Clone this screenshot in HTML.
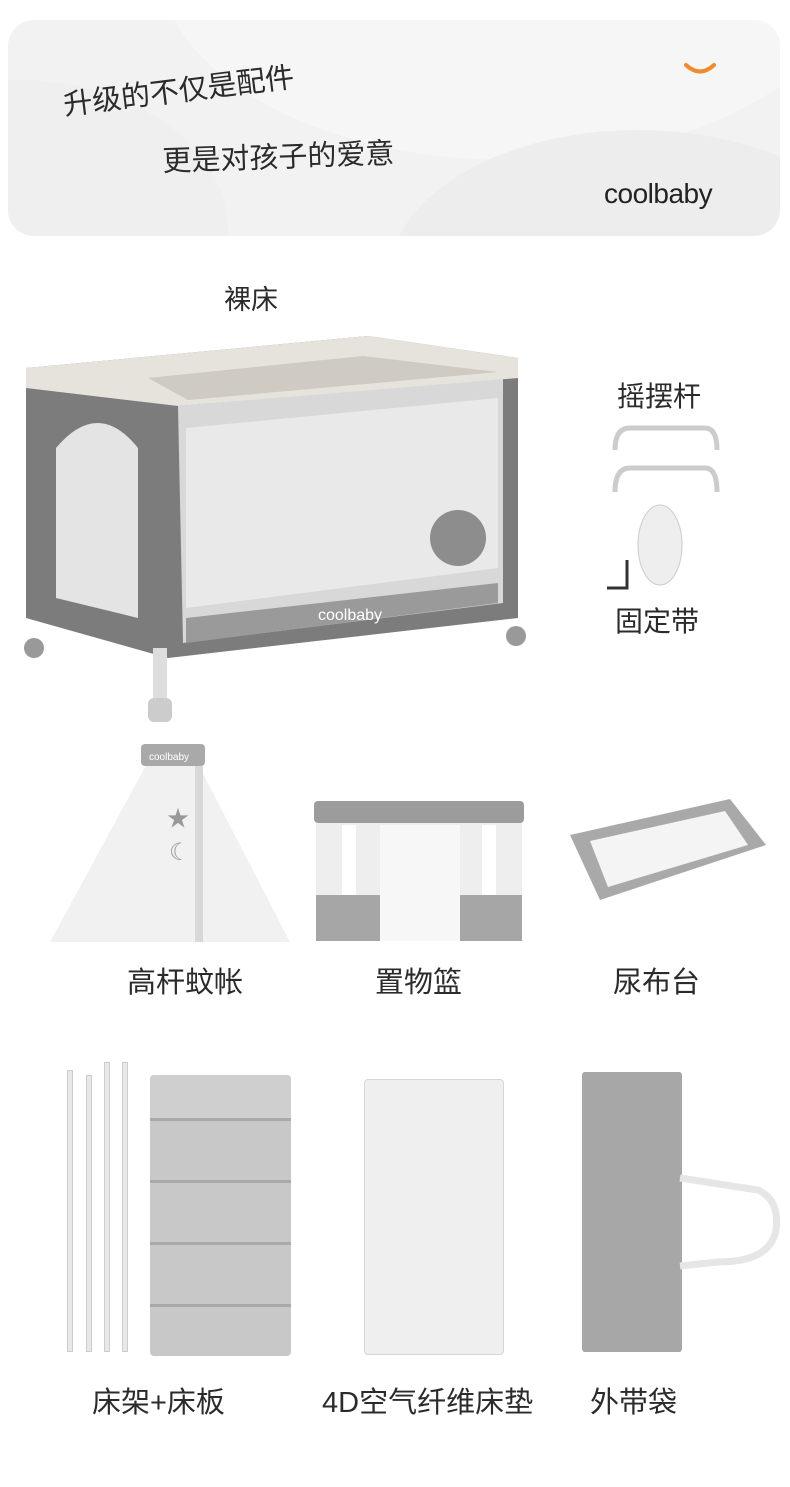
<!DOCTYPE html>
<html><head><meta charset="utf-8">
<style>
*{margin:0;padding:0;box-sizing:border-box}
body{width:790px;height:1487px;background:#fff;position:relative;overflow:hidden;font-family:"Liberation Sans","Noto Sans CJK SC",sans-serif;color:#2a2a2a}
.a{position:absolute}
.lbl{position:absolute;font-size:29px;color:#2b2b2b;white-space:nowrap;line-height:1}
</style></head><body>
<div class="a" style="left:8px;top:20px;width:772px;height:216px;border-radius:26px;background:#f2f2f2;overflow:hidden">
  <div class="a" style="left:150px;top:-260px;width:700px;height:400px;border-radius:50%;background:#f6f6f6"></div>
  <div class="a" style="left:380px;top:110px;width:500px;height:300px;border-radius:50%;background:#ededed"></div>
  <div class="a" style="left:-200px;top:60px;width:420px;height:300px;border-radius:50%;background:#efefef"></div>
</div>
<div class="lbl" style="left:62px;top:92px;font-size:29px;transform:rotate(-7deg);transform-origin:left top">升级的不仅是配件</div>
<div class="lbl" style="left:162px;top:148px;font-size:29px;transform:rotate(-2deg);transform-origin:left top">更是对孩子的爱意</div>
<svg class="a" style="left:683px;top:60px" width="34" height="16"><path d="M3 5 Q17 18 31 5" stroke="#f08a2c" stroke-width="4" fill="none" stroke-linecap="round"/></svg>
<div class="lbl" style="left:604px;top:180px;font-size:28px;color:#222;letter-spacing:-0.5px">coolbaby</div>

<div class="lbl" style="left:224px;top:287px;font-size:27px">裸床</div>
<svg class="a" style="left:18px;top:328px" width="520" height="400">
  <polygon points="8,40 350,8 500,30 500,290 150,330 8,290" fill="#7c7c7c"/>
  <polygon points="160,78 485,50 485,275 165,315" fill="#d8d8d8"/>
  <polygon points="168,100 480,70 480,240 168,280" fill="#e9e9e9"/>
  <polygon points="168,290 480,255 480,275 168,315" fill="#9a9a9a"/>
  <path d="M38,200 L38,120 Q80,70 120,120 L120,290 L38,270 Z" fill="#e4e4e4"/>
  <polygon points="8,40 350,8 500,30 500,50 160,78 8,60" fill="#e6e3dc"/>
  <polygon points="130,50 345,28 480,44 170,72" fill="#cfcbc2"/>
  <circle cx="440" cy="210" r="28" fill="#8d8d8d"/>
  <rect x="135" y="320" width="14" height="60" fill="#ddd"/>
  <rect x="130" y="370" width="24" height="24" rx="6" fill="#ccc"/>
  <circle cx="16" cy="320" r="10" fill="#999"/>
  <circle cx="498" cy="308" r="10" fill="#999"/>
  <text x="300" y="292" font-size="16" fill="#fff" font-family="Liberation Sans">coolbaby</text>
</svg>

<div class="lbl" style="left:617px;top:383px;font-size:28px">摇摆杆</div>
<svg class="a" style="left:605px;top:420px" width="125" height="175">
  <path d="M10 30 Q10 8 25 8 L100 8 Q112 8 112 30" stroke="#ccc" stroke-width="5" fill="none"/>
  <path d="M10 72 Q10 48 25 48 L100 48 Q112 48 112 72" stroke="#ccc" stroke-width="5" fill="none"/>
  <ellipse cx="55" cy="125" rx="22" ry="40" fill="#eee" stroke="#ccc"/>
  <path d="M2 168 L22 168 L22 140" stroke="#333" stroke-width="3" fill="none"/>
</svg>
<div class="lbl" style="left:615px;top:608px;font-size:28px">固定带</div>

<svg class="a" style="left:45px;top:738px" width="250" height="205">
  <polygon points="105,20 150,20 245,204 5,204" fill="#f1f1f1"/>
  <rect x="96" y="6" width="64" height="22" rx="4" fill="#a9a9a9"/>
  <rect x="150" y="28" width="8" height="176" fill="#d8d8d8"/>
  <text x="104" y="22" font-size="10" fill="#fff" font-family="Liberation Sans">coolbaby</text>
  <text x="122" y="88" font-size="22" fill="#999">★</text>
  <text x="124" y="122" font-size="24" fill="#999">☾</text>
</svg>
<svg class="a" style="left:312px;top:785px" width="215" height="158">
  <rect x="2" y="16" width="210" height="22" rx="4" fill="#9c9c9c"/>
  <rect x="4" y="38" width="206" height="118" fill="#eee"/>
  <rect x="4" y="110" width="206" height="46" fill="#a6a6a6"/>
  <rect x="68" y="40" width="80" height="116" fill="#f7f7f7"/>
  <rect x="30" y="40" width="14" height="70" fill="#fff"/>
  <rect x="170" y="40" width="14" height="70" fill="#fff"/>
</svg>
<svg class="a" style="left:540px;top:795px" width="230" height="130">
  <polygon points="30,40 190,4 226,50 60,105" fill="#a9a9a9"/>
  <polygon points="50,46 185,16 208,50 68,92" fill="#f4f4f4"/>
</svg>
<div class="lbl" style="left:127px;top:969px">高杆蚊帐</div>
<div class="lbl" style="left:375px;top:969px">置物篮</div>
<div class="lbl" style="left:613px;top:969px">尿布台</div>

<div class="a" style="left:67px;top:1070px;width:6px;height:282px;background:#e8e8e8;border:1px solid #ccc"></div>
<div class="a" style="left:86px;top:1075px;width:6px;height:277px;background:#e8e8e8;border:1px solid #ccc"></div>
<div class="a" style="left:104px;top:1062px;width:6px;height:290px;background:#e8e8e8;border:1px solid #ccc"></div>
<div class="a" style="left:122px;top:1062px;width:6px;height:290px;background:#e8e8e8;border:1px solid #ccc"></div>
<div class="a" style="left:150px;top:1075px;width:141px;height:281px;background:#c8c8c8;border-radius:4px;overflow:hidden">
  <div style="height:46px;border-bottom:3px solid #a9a9a9;background:#cfcfcf"></div>
  <div style="height:62px;border-bottom:3px solid #a9a9a9"></div>
  <div style="height:62px;border-bottom:3px solid #a9a9a9"></div>
  <div style="height:62px;border-bottom:3px solid #a9a9a9"></div>
</div>
<div class="a" style="left:364px;top:1079px;width:140px;height:276px;background:#efefef;border:1px solid #d6d6d6;border-radius:4px"></div>
<div class="a" style="left:582px;top:1072px;width:100px;height:280px;background:#a7a7a7;border-radius:3px"></div>
<svg class="a" style="left:678px;top:1170px" width="110" height="110"><path d="M2 8 L80 20 Q102 30 98 60 Q92 92 40 92 L2 96" stroke="#e6e6e6" stroke-width="7" fill="none"/></svg>
<div class="lbl" style="left:92px;top:1389px">床架+床板</div>
<div class="lbl" style="left:322px;top:1389px">4D空气纤维床垫</div>
<div class="lbl" style="left:590px;top:1389px">外带袋</div>
</body></html>
